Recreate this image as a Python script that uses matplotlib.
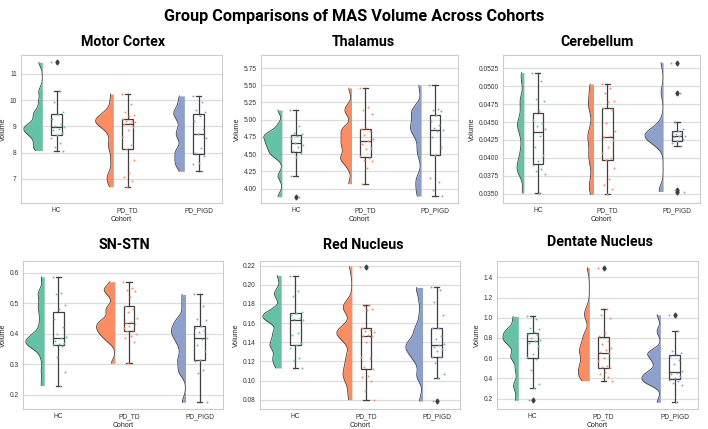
import numpy as np
import matplotlib.pyplot as plt

plt.rcParams["font.family"] = ["Liberation Sans", "DejaVu Sans"]

# cohorts and palette (Set2)
cohorts = ["HC", "PD_TD", "PD_PIGD"]
colors = ["#66c2a5", "#fc8d62", "#8da0cb"]

# volumes, one list per cohort and region
motor_hc = [11.44, 10.33, 9.92, 9.55, 9.48, 9.3, 9.1, 9.0, 8.97, 8.9, 8.85, 8.75, 8.68, 8.55, 8.35, 8.2, 8.08]
motor_td = [10.23, 9.87, 9.56, 9.43, 9.4, 9.3, 9.22, 9.2, 9.17, 9.13, 9.1, 8.97, 8.87, 8.6, 8.29, 8.15, 7.7, 7.23, 7.06, 6.93, 6.7]
motor_pigd = [10.16, 9.91, 9.63, 9.53, 9.41, 9.22, 8.9, 8.71, 8.56, 8.18, 7.99, 7.89, 7.62, 7.58, 7.29]

thal_hc = [5.14, 4.91, 4.8, 4.79, 4.77, 4.74, 4.7, 4.66, 4.63, 4.6, 4.54, 4.51, 4.46, 4.18, 3.88]
thal_td = [5.46, 5.19, 5.14, 5.08, 4.88, 4.86, 4.83, 4.78, 4.72, 4.69, 4.65, 4.59, 4.57, 4.47, 4.45, 4.42, 4.4, 4.3, 4.07]
thal_pigd = [5.5, 5.16, 5.14, 5.12, 5.07, 4.98, 4.93, 4.88, 4.85, 4.83, 4.75, 4.6, 4.49, 4.15, 4.1, 3.98, 3.89]

cereb_hc = [0.0519, 0.0508, 0.0482, 0.0479, 0.0466, 0.0453, 0.0448, 0.0445, 0.0440, 0.0431, 0.0415,
            0.0404, 0.0396, 0.0390, 0.0384, 0.0382, 0.0378, 0.0351]
cereb_td = [0.0503, 0.0498, 0.0491, 0.0479, 0.0478, 0.0469, 0.0467, 0.0448, 0.0437, 0.0431, 0.0429,
            0.0425, 0.0415, 0.0407, 0.0400, 0.0397, 0.0386, 0.0370, 0.0362, 0.0357, 0.0349]
cereb_pigd = [0.0533, 0.0491, 0.0450, 0.0440, 0.0438, 0.0436, 0.0434, 0.0433, 0.0431, 0.0430, 0.0429,
              0.0426, 0.0423, 0.0421, 0.0417, 0.03556, 0.0353]

snstn_hc = [0.587, 0.535, 0.529, 0.494, 0.48, 0.45, 0.423, 0.398, 0.388, 0.385, 0.375, 0.370, 0.365,
            0.362, 0.359, 0.323, 0.276, 0.230]
snstn_td = [0.571, 0.549, 0.545, 0.54, 0.52, 0.49, 0.48, 0.47, 0.452, 0.44, 0.437, 0.433, 0.425, 0.418,
            0.413, 0.409, 0.40, 0.393, 0.385, 0.372, 0.303]
snstn_pigd = [0.529, 0.492, 0.449, 0.446, 0.426, 0.419, 0.408, 0.405, 0.386, 0.384, 0.364, 0.342, 0.313,
              0.31, 0.28, 0.271, 0.175]

red_hc = [0.2096, 0.193, 0.188, 0.172, 0.171, 0.168, 0.165, 0.164, 0.163, 0.150, 0.148, 0.139, 0.137,
          0.134, 0.124, 0.121, 0.1131]
red_td = [0.219, 0.179, 0.178, 0.175, 0.174, 0.155, 0.153, 0.152, 0.151, 0.148, 0.147, 0.146, 0.14,
          0.125, 0.124, 0.114, 0.112, 0.105, 0.104, 0.100, 0.089, 0.080]
red_pigd = [0.1972, 0.1945, 0.1825, 0.168, 0.155, 0.1545, 0.146, 0.143, 0.138, 0.1369, 0.135, 0.133,
            0.131, 0.125, 0.1245, 0.118, 0.107, 0.1024, 0.0786]

dent_hc = [1.013, 0.985, 0.90, 0.89, 0.855, 0.84, 0.83, 0.80, 0.78, 0.767, 0.75, 0.72, 0.64, 0.611,
           0.59, 0.48, 0.35, 0.302, 0.184]
dent_td = [1.495, 1.088, 1.03, 1.0, 0.85, 0.823, 0.77, 0.745, 0.70, 0.68, 0.66, 0.65, 0.60, 0.57,
           0.52, 0.51, 0.50, 0.46, 0.44, 0.41, 0.40, 0.377]
dent_pigd = [1.03, 0.865, 0.67, 0.655, 0.641, 0.62, 0.58, 0.54, 0.47, 0.453, 0.44, 0.42, 0.40, 0.388,
             0.37, 0.355, 0.34, 0.164]

titles = ["Motor Cortex", "Thalamus", "Cerebellum", "SN-STN", "Red Nucleus", "Dentate Nucleus"]
data = [
    [motor_hc, motor_td, motor_pigd],
    [thal_hc, thal_td, thal_pigd],
    [cereb_hc, cereb_td, cereb_pigd],
    [snstn_hc, snstn_td, snstn_pigd],
    [red_hc, red_td, red_pigd],
    [dent_hc, dent_td, dent_pigd],
]

W, H = 708, 429
# axes boxes in pixels (left, top, right, bottom) and title centres
boxes = [(21, 55, 222, 203), (261, 55, 458, 203), (503, 55, 700, 203),
         (23, 261, 223, 409), (260, 261, 460, 409), (497, 261, 698, 409)]
title_xy = [(123, 42), (363, 42), (597, 42), (124, 245), (363, 245), (600, 242)]
ylims = [(6.08, 11.72), (3.79, 5.94), (0.0337, 0.05436), (0.153, 0.639), (0.0703, 0.2248), (0.098, 1.561)]
yticks = [np.arange(7, 11.5, 1), np.arange(4.0, 5.8, 0.25), np.arange(0.035, 0.0526, 0.0025),
          np.arange(0.2, 0.61, 0.1), np.arange(0.08, 0.221, 0.02), np.arange(0.2, 1.41, 0.2)]
yfmt = ["{:.0f}", "{:.2f}", "{:.4f}", "{:.1f}", "{:.2f}", "{:.1f}"]

dark = "#3f3f3f"
title_font = ["Roboto", "DejaVu Sans"]

fig = plt.figure(figsize=(W / 100, H / 100), dpi=100)
fig.text(354 / W, 1 - 16 / H, "Group Comparisons of MAS Volume Across Cohorts",
         ha="center", va="center", fontsize=11.7, fontweight="bold", family=title_font)


def raincloud(ax, groups):
    dens = []
    for vals in groups:
        v = np.asarray(vals)
        bw = 0.2 * v.std(ddof=1)
        yy = np.linspace(v.min(), v.max(), 300)
        d = np.exp(-0.5 * ((yy[:, None] - v[None, :]) / bw) ** 2).sum(1) / (len(v) * bw * np.sqrt(2 * np.pi))
        dens.append((yy, d))
    peak = max(d.max() for _, d in dens)
    for i, vals in enumerate(groups):
        yy, d = dens[i]
        edge = i - 0.2
        xs = edge - d / peak * 0.26
        ax.fill_betweenx(yy, xs, edge, color=colors[i], lw=0, zorder=2)
        ax.plot(xs, yy, color=dark, lw=0.6, zorder=3)
        ax.boxplot([vals], positions=[i], widths=0.15, patch_artist=True, manage_ticks=False,
                   boxprops=dict(facecolor="none", edgecolor=dark, lw=0.9),
                   medianprops=dict(color=dark, lw=0.9),
                   whiskerprops=dict(color=dark, lw=0.9),
                   capprops=dict(color=dark, lw=0.9),
                   flierprops=dict(marker="d", markerfacecolor=dark, markeredgecolor=dark, markersize=2.5),
                   zorder=4)
        n = len(vals)
        jit = ((np.arange(n) * 0.618034) % 1 - 0.5) * 0.2 + 0.02
        ax.scatter(i + jit, vals, s=2, color=colors[i], lw=0, zorder=5)


for k in range(6):
    l, t, r, b = boxes[k]
    ax = fig.add_axes([l / W, 1 - b / H, (r - l) / W, (b - t) / H])
    raincloud(ax, data[k])
    ax.set_xlim(-0.5, 2.33)
    ax.set_ylim(*ylims[k])
    ax.set_yticks(yticks[k])
    ax.set_yticklabels([yfmt[k].format(v) for v in yticks[k]])
    ax.set_xticks(range(3))
    ax.set_xticklabels(cohorts)
    ax.tick_params(length=0, labelsize=4.8, labelcolor="#333333", pad=3)
    ax.set_xlabel("Cohort", fontsize=5, labelpad=1.5, color="#222222")
    ax.set_ylabel("Volume", fontsize=5, labelpad=2, color="#222222")
    ax.grid(axis="y", color="#dcdcdc", lw=0.9)
    ax.set_axisbelow(True)
    for s in ax.spines.values():
        s.set_color("#cccccc")
        s.set_linewidth(0.8)
    tx, ty = title_xy[k]
    fig.text(tx / W, 1 - ty / H, titles[k], ha="center", va="center", fontsize=10.2,
             fontweight="bold", family=title_font)

fig.savefig("out.png", dpi=100)
